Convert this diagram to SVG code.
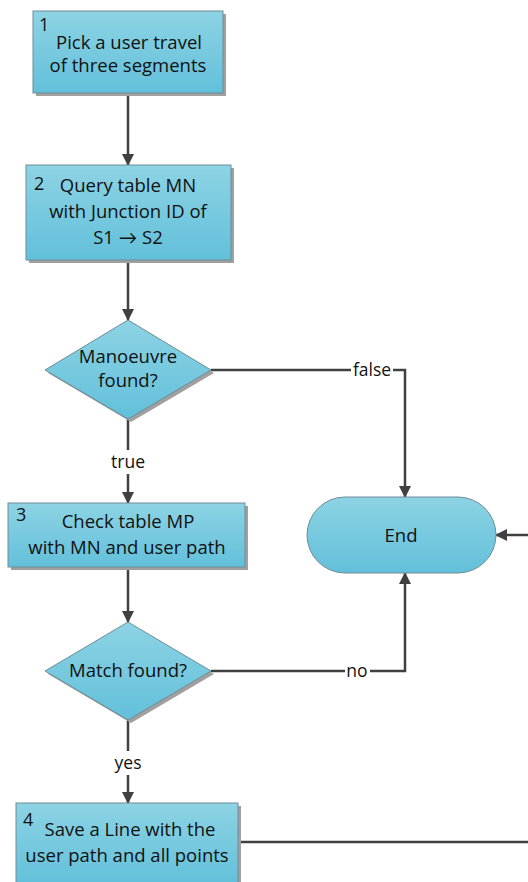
<svg xmlns="http://www.w3.org/2000/svg" width="528" height="882" viewBox="0 0 528 882">
  <defs>
    <linearGradient id="fill" x1="0" y1="0" x2="0" y2="1">
      <stop offset="0" stop-color="#8dd3e4"/>
      <stop offset="1" stop-color="#62c0da"/>
    </linearGradient>
    <marker id="arrow" viewBox="0 0 12 12" refX="11" refY="6" markerWidth="12" markerHeight="12" markerUnits="userSpaceOnUse" orient="auto">
      <path d="M0,0 L12,6 L0,12 Z" fill="#404040"/>
    </marker>
  </defs>
  <style>
    .shape { fill: url(#fill); stroke: #6e8c98; stroke-width: 1; }
    .shadow { fill: #a0a0a0; }
    .txt { font-family: "Open Sans", Lato, sans-serif; font-size: 18.5px; fill: #111; text-anchor: middle; }
    .num { font-family: "Open Sans", Lato, sans-serif; font-size: 18px; fill: #111; }
    .lbl { font-family: "Open Sans", Lato, sans-serif; font-size: 17.5px; fill: #111; text-anchor: middle; }
    .conn { fill: none; stroke: #404040; stroke-width: 2.5; }
    .gap { fill: #ffffff; }
  </style>
  <rect width="528" height="882" fill="#ffffff"/>

  <!-- connectors -->
  <g id="connectors">
    <path class="conn" d="M128,93 V165" marker-end="url(#arrow)"/>
    <path class="conn" d="M128,260 V320" marker-end="url(#arrow)"/>
    <path class="conn" d="M128,419 V503" marker-end="url(#arrow)"/>
    <path class="conn" d="M211,370 H405 V497" marker-end="url(#arrow)"/>
    <path class="conn" d="M128,567 V622" marker-end="url(#arrow)"/>
    <path class="conn" d="M211,671 H405 V573" marker-end="url(#arrow)"/>
    <path class="conn" d="M128,720 V803" marker-end="url(#arrow)"/>
    <path class="conn" d="M238,842 H528"/>
    <path class="conn" d="M528,535 H496" marker-end="url(#arrow)"/>
    <!-- labels on lines -->
    <rect class="gap" x="351" y="359" width="42" height="22"/>
    <text class="lbl" x="372" y="376">false</text>
    <rect class="gap" x="107" y="450" width="42" height="24"/>
    <text class="lbl" x="128" y="468">true</text>
    <rect class="gap" x="345" y="660" width="25" height="22"/>
    <text class="lbl" x="357" y="677">no</text>
    <rect class="gap" x="110" y="751" width="36" height="24"/>
    <text class="lbl" x="128" y="769">yes</text>
  </g>

  <g id="step1">
    <rect class="shadow" x="36" y="14" width="190" height="82"/>
    <rect class="shape" x="33" y="11" width="190" height="82"/>
    <text class="num" x="39" y="31">1</text>
    <text class="txt" x="129" y="49">Pick a user travel</text>
    <text class="txt" x="128" y="72">of three segments</text>
  </g>

  <g id="step2">
    <rect class="shadow" x="29" y="168" width="205" height="95"/>
    <rect class="shape" x="26" y="165" width="205" height="95"/>
    <text class="num" x="34" y="190">2</text>
    <text class="txt" x="128" y="192">Query table MN</text>
    <text class="txt" x="128" y="218">with Junction ID of</text>
    <text class="txt" x="128" y="244">S1 → S2</text>
  </g>

  <g id="decision1">
    <polygon class="shadow" points="131,323 214,373 131,422 48,373"/>
    <polygon class="shape" points="128,320 211,370 128,419 45,370"/>
    <text class="txt" x="128" y="363">Manoeuvre</text>
    <text class="txt" x="128" y="387">found?</text>
  </g>

  <g id="step3">
    <rect class="shadow" x="11" y="506" width="237" height="64"/>
    <rect class="shape" x="8" y="503" width="237" height="64"/>
    <text class="num" x="16" y="521">3</text>
    <text class="txt" x="128" y="528">Check table MP</text>
    <text class="txt" x="127" y="554">with MN and user path</text>
  </g>

  <g id="end">
    <rect class="shape" x="307" y="497" width="189" height="76" rx="38" ry="38"/>
    <text class="txt" x="401" y="542">End</text>
  </g>

  <g id="decision2">
    <polygon class="shadow" points="131,625 214,674 131,723 48,674"/>
    <polygon class="shape" points="128,622 211,671 128,720 45,671"/>
    <text class="txt" x="128" y="677">Match found?</text>
  </g>

  <g id="step4">
    <rect class="shadow" x="19" y="806" width="222" height="82"/>
    <rect class="shape" x="16" y="803" width="222" height="82"/>
    <text class="num" x="23" y="826">4</text>
    <text class="txt" x="130" y="836">Save a Line with the</text>
    <text class="txt" x="127" y="862">user path and all points</text>
  </g>
</svg>
